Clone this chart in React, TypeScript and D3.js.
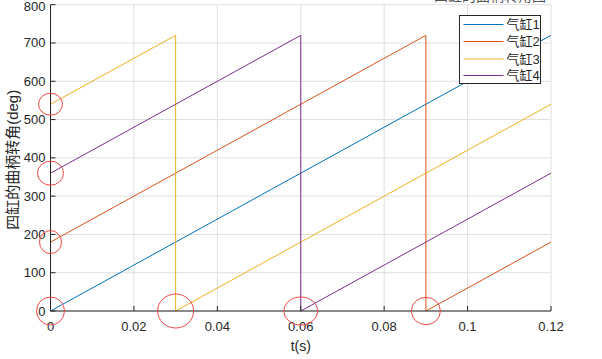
import React from "react";
import * as d3 from "d3";

const seriesNames = ["气缸1", "气缸2", "气缸3", "气缸4"];
const seriesColors = ["#0072BD", "#D95319", "#EDB120", "#7E2F8E"];
const cyl1T = [0, 0.12];
const cyl1V = [0, 720];
const cyl2T = [0, 0.09, 0.09, 0.12];
const cyl2V = [180, 720, 0, 180];
const cyl3T = [0, 0.03, 0.03, 0.12];
const cyl3V = [540, 720, 0, 540];
const cyl4T = [0, 0.06, 0.06, 0.12];
const cyl4V = [360, 720, 0, 360];
const xTicks = [0, 0.02, 0.04, 0.06, 0.08, 0.1, 0.12];
const xTickLabels = ["0", "0.02", "0.04", "0.06", "0.08", "0.1", "0.12"];
const yTicks = [0, 100, 200, 300, 400, 500, 600, 700, 800];
const markT = [0, 0, 0, 0, 0.03, 0.06, 0.09];
const markV = [540, 360, 180, 0, 0, 0, 0];
const markRx = [12, 13, 11, 14, 18, 17, 14.5];
const markRy = [11, 12, 11.5, 14, 17, 14, 13.7];

export default function App() {
  const W = 602, H = 359;
  const left = 50.5, right = 551, top = 4.7, bottom = 311;
  const x = d3.scaleLinear().domain([0, 0.12]).range([left, right]);
  const y = d3.scaleLinear().domain([0, 800]).range([bottom, top]);
  const line = d3.line<[number, number]>().x(d => x(d[0])).y(d => y(d[1]));
  const series = [
    [cyl1T, cyl1V], [cyl2T, cyl2V], [cyl3T, cyl3V], [cyl4T, cyl4V],
  ].map(([t, v]) => t.map((ti, i) => [ti, v[i]] as [number, number]));
  const axisColor = "#262626";
  const font = "'Liberation Sans', Arial, 'Noto Sans CJK SC', sans-serif";
  const cjk = "'Liberation Sans', 'Noto Sans CJK SC', sans-serif";
  const legX = 459.5, legY = 15.5, legW = 81, legH = 68;
  const legRowY = [24.5, 41.5, 59, 75.5];
  return (
    <svg width={W} height={H} style={{ position: "absolute", left: 0, top: 0, background: "#fff" }}>
      <rect x={0} y={0} width={W} height={H} fill="#fff" />
      <text x={490} y={0.5} textAnchor="middle" fontSize={14} fill="#555" fontFamily={cjk}>四缸的曲柄转角图</text>
      {/* grid */}
      {xTicks.map((t, i) => (
        <line key={"gx" + i} x1={x(t)} x2={x(t)} y1={top} y2={bottom} stroke="#dfdfdf" strokeWidth={1} />
      ))}
      {yTicks.map((v, i) => (
        <line key={"gy" + i} x1={left} x2={right} y1={y(v)} y2={y(v)} stroke="#dfdfdf" strokeWidth={1} />
      ))}
      {/* series */}
      {series.map((pts, i) => (
        <path key={"s" + i} d={line(pts) || ""} fill="none" stroke={seriesColors[i]} strokeWidth={1} />
      ))}
      {/* axes */}
      <line x1={left} x2={left} y1={top} y2={bottom} stroke={axisColor} strokeWidth={1} />
      <line x1={left} x2={right} y1={bottom} y2={bottom} stroke={axisColor} strokeWidth={1} />
      {xTicks.map((t, i) => (
        <g key={"xt" + i}>
          <line x1={x(t)} x2={x(t)} y1={bottom} y2={bottom - 5} stroke={axisColor} strokeWidth={1} />
          <text x={x(t)} y={331} textAnchor="middle" fontSize={13} fill={axisColor} fontFamily={font}>{xTickLabels[i]}</text>
        </g>
      ))}
      {yTicks.map((v, i) => (
        <g key={"yt" + i}>
          <line x1={left} x2={left + 5} y1={y(v)} y2={y(v)} stroke={axisColor} strokeWidth={1} />
          <text x={left - 5} y={Math.max(y(v) + 4.5, 10.5)} textAnchor="end" fontSize={13} fill={axisColor} fontFamily={font}>{v}</text>
        </g>
      ))}
      <text x={(left + right) / 2} y={351} textAnchor="middle" fontSize={14} fill={axisColor} fontFamily={font}>t(s)</text>
      <text transform={`translate(18, ${(top + bottom) / 2 + 2}) rotate(-90)`} textAnchor="middle" fontSize={15} fill={axisColor} fontFamily={cjk}>四缸的曲柄转角(deg)</text>
      {/* legend */}
      <rect x={legX} y={legY} width={legW} height={legH} fill="#fff" stroke="#262626" strokeWidth={1} />
      {seriesNames.map((n, i) => (
        <g key={"lg" + i}>
          <line x1={463.5} x2={503.5} y1={legRowY[i]} y2={legRowY[i]} stroke={seriesColors[i]} strokeWidth={1} />
          <text x={506.5} y={legRowY[i] + 4.5} fontSize={13} fill={axisColor} fontFamily={cjk}>{n}</text>
        </g>
      ))}
      {/* annotation circles */}
      {markT.map((t, i) => (
        <ellipse key={"m" + i} cx={x(t)} cy={y(markV[i])} rx={markRx[i]} ry={markRy[i]} fill="none" stroke="#f04848" strokeWidth={1} />
      ))}
    </svg>
  );
}
